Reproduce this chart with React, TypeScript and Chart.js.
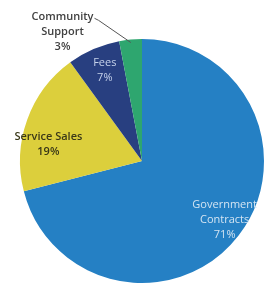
import React, { useEffect, useRef } from "react";
import { Chart, registerables } from "chart.js";

Chart.register(...registerables);

const categories = ["Government Contracts", "Service Sales", "Fees", "Community Support"];
const values = [71, 19, 7, 3];
const colors = ["#2580c4", "#dccf3c", "#283f80", "#2ea66f"];
const labelLines = [["Government", "Contracts", "71%"], ["Service Sales", "19%"], ["Fees", "7%"], ["Community", "Support", "3%"]];
const labelColors = ["#d4e4f2", "#3a3818", "#c6d2ea", "#404040"];
const labelWeights = ["400", "600", "400", "600"];
// label placement relative to each slice: angle shift (deg) and radius factor
const labelAngleShift = [-2.5, -9.5, 1, -26.3];
const labelRadiusFactor = [0.83, 0.78, 0.8, 1.24];

const labelPlugin = {
  id: "sliceLabels",
  afterDatasetsDraw(chart: any) {
    const ctx = chart.ctx;
    const meta = chart.getDatasetMeta(0);
    meta.data.forEach((arc: any, i: number) => {
      const mid = (arc.startAngle + arc.endAngle) / 2;
      const a = mid + (labelAngleShift[i] * Math.PI) / 180;
      const r = arc.outerRadius * labelRadiusFactor[i];
      const cx = arc.x + Math.cos(a) * r;
      const cy = arc.y + Math.sin(a) * r;
      const lines = labelLines[i];
      const lh = 15;
      ctx.save();
      ctx.font = `${labelWeights[i]} 11px "Open Sans", sans-serif`;
      ctx.fillStyle = labelColors[i];
      ctx.textAlign = "center";
      ctx.textBaseline = "middle";
      const y0 = cy - ((lines.length - 1) * lh) / 2;
      lines.forEach((t, k) => ctx.fillText(t, cx, y0 + k * lh));
      if (i === 3) {
        // leader line from text to slice edge
        const ex = arc.x + Math.cos(mid) * (arc.outerRadius - 3);
        const ey = arc.y + Math.sin(mid) * (arc.outerRadius - 3);
        const tw = ctx.measureText(lines[0]).width;
        ctx.strokeStyle = "#555555";
        ctx.lineWidth = 1;
        ctx.beginPath();
        ctx.moveTo(cx + tw / 2 + 1, y0 + 1);
        ctx.lineTo(cx + tw / 2 + 5, y0 + 3);
        ctx.lineTo(ex, ey);
        ctx.stroke();
      }
      ctx.restore();
    });
  },
};

export default function App() {
  const ref = useRef<HTMLCanvasElement>(null);
  useEffect(() => {
    if (!ref.current) return;
    const chart = new Chart(ref.current, {
      type: "pie",
      data: {
        labels: categories,
        datasets: [
          {
            data: values,
            backgroundColor: colors,
            borderWidth: 0,
          },
        ],
      },
      options: {
        responsive: false,
        animation: false,
        layout: { padding: { left: 20, right: 1, top: 39, bottom: 7 } },
        plugins: { legend: { display: false }, tooltip: { enabled: false } },
      },
      plugins: [labelPlugin],
    });
    return () => chart.destroy();
  }, []);
  return (
    <div style={{ position: "fixed", left: 0, top: 0, width: 265, height: 290, background: "#fff" }}>
      <canvas ref={ref} width={265} height={290} />
    </div>
  );
}
